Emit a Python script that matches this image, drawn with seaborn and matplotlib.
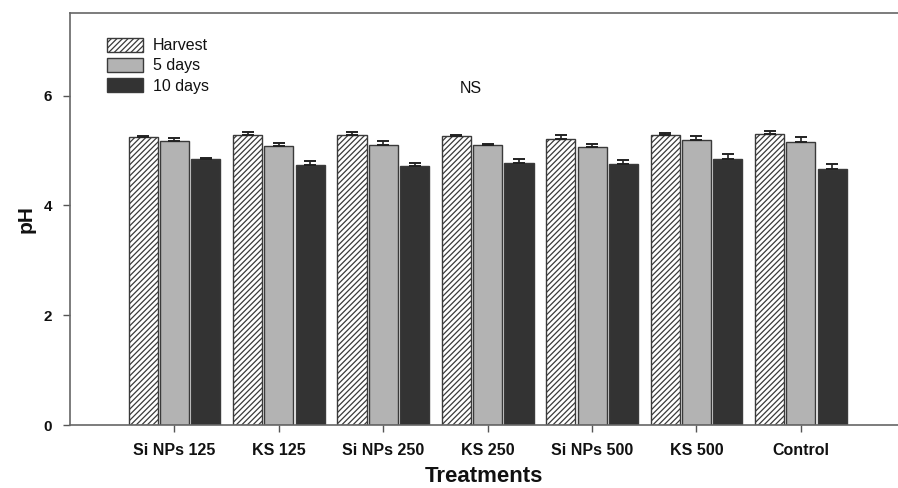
import numpy as np
import pandas as pd
import matplotlib
matplotlib.use("Agg")
import matplotlib.pyplot as plt
import seaborn as sns
from matplotlib.patches import Patch

# Treatments and sampling times
treatments = ["Si NPs 125", "KS 125", "Si NPs 250", "KS 250", "Si NPs 500", "KS 500", "Control"]
times = ["Harvest", "5 days", "10 days"]

# Mean pH per treatment for each sampling time
ph_harvest = [5.25, 5.29, 5.29, 5.26, 5.21, 5.28, 5.30]
ph_5days = [5.18, 5.08, 5.10, 5.10, 5.07, 5.19, 5.15]
ph_10days = [4.84, 4.73, 4.71, 4.77, 4.75, 4.85, 4.67]

# Standard errors
se_harvest = [0.02, 0.04, 0.04, 0.02, 0.08, 0.04, 0.05]
se_5days = [0.05, 0.05, 0.07, 0.02, 0.05, 0.08, 0.09]
se_10days = [0.02, 0.08, 0.07, 0.07, 0.07, 0.09, 0.09]

means = [ph_harvest, ph_5days, ph_10days]
errors = [se_harvest, se_5days, se_10days]

rows = []
for t, m_list, e_list in zip(times, means, errors):
    for trt, m, e in zip(treatments, m_list, e_list):
        rows.append({"Treatment": trt, "Time": t, "pH": m, "se": e})
df = pd.DataFrame(rows)

sns.set_theme(style="ticks")
plt.rcParams["font.family"] = ["Liberation Sans", "DejaVu Sans"]
ink = "#111111"
plt.rcParams["text.color"] = ink
plt.rcParams["axes.labelcolor"] = ink
plt.rcParams["xtick.labelcolor"] = ink
plt.rcParams["ytick.labelcolor"] = ink

fill_colors = {"Harvest": "#ffffff", "5 days": "#b3b3b3", "10 days": "#333333"}
edge_color = "#3a3a3a"
plt.rcParams["hatch.color"] = "#404040"
plt.rcParams["hatch.linewidth"] = 0.9

fig = plt.figure(figsize=(8.98, 4.88), dpi=100)
ax = fig.add_axes([0.078, 0.129, 0.922, 0.844])

sns.barplot(data=df, x="Treatment", y="pH", hue="Time", order=treatments,
            hue_order=times, palette=fill_colors, errorbar=None,
            width=0.9, gap=0.07, edgecolor=edge_color, linewidth=1.0,
            legend=False, ax=ax)

# Hatch the harvest bars and add upper error bars
bar_containers = list(ax.containers)
for t_idx, cont in enumerate(bar_containers):
    xs = [p.get_x() + p.get_width() / 2 for p in cont.patches]
    hs = [p.get_height() for p in cont.patches]
    if times[t_idx] == "Harvest":
        for p in cont.patches:
            p.set_hatch("//////")
    err = errors[t_idx]
    ax.errorbar(xs, hs, yerr=[np.zeros(len(err)), err], fmt="none",
                ecolor="#222222", elinewidth=1.2, capsize=4.5, capthick=1.4,
                zorder=3)

ax.set_xlim(-1.0, 6.93)
ax.set_ylim(0, 7.5)
ax.set_yticks([0, 2, 4, 6])
ax.set_yticklabels(["0", "2", "4", "6"], fontweight="bold", fontsize=11)
ax.set_xticks(range(len(treatments)))
ax.set_xticklabels(treatments, fontweight="bold", fontsize=11.5)
ax.tick_params(axis="both", direction="out", length=5, width=1, color="#555555", pad=8)
ax.tick_params(axis="x", length=5, pad=8)

for side in ["left", "bottom", "top"]:
    ax.spines[side].set_color("#666666")
    ax.spines[side].set_linewidth(1.2)
ax.spines["right"].set_visible(False)

ax.set_xlabel("Treatments", fontsize=16, fontweight="bold", labelpad=5.5)
ax.set_ylabel("pH", fontsize=15, fontweight="bold", labelpad=6)

ax.text(2.835, 6.13, "NS", ha="center", va="center", fontsize=11.5)

handles = [
    Patch(facecolor="#ffffff", edgecolor=edge_color, hatch="//////", label="Harvest"),
    Patch(facecolor=fill_colors["5 days"], edgecolor=edge_color, label="5 days"),
    Patch(facecolor=fill_colors["10 days"], edgecolor=edge_color, label="10 days"),
]
ax.legend(handles=handles, loc="upper left", bbox_to_anchor=(0.045, 0.94),
          frameon=False, fontsize=11.5, handlelength=2.25, handleheight=0.95,
          labelspacing=0.3, handletextpad=0.6, borderaxespad=0.0,
          borderpad=0.0)

fig.savefig("out.png", dpi=100)
